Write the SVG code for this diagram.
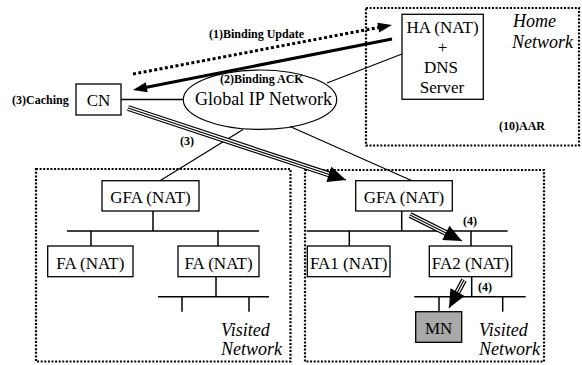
<svg xmlns="http://www.w3.org/2000/svg" width="582" height="365" viewBox="0 0 582 365">
<style>
.bg{fill:#ffffff}
.zone{fill:none;stroke:#000;stroke-width:2.2;stroke-dasharray:2 1.6}
.box{fill:#fff;stroke:#000;stroke-width:1.3}
.mn{fill:#a9a9a9;stroke:#000;stroke-width:1.3}
.wire{fill:none;stroke:#000;stroke-width:1.5}
.thin{fill:none;stroke:#000;stroke-width:1.2}
.node{font-family:"Liberation Serif","Times New Roman",serif;font-size:17px;fill:#000;text-anchor:middle}
.lbl{font-family:"Liberation Serif","Times New Roman",serif;font-size:12px;font-weight:bold;fill:#000}
.zl{font-family:"Liberation Serif","Times New Roman",serif;font-size:18px;font-style:italic;fill:#000}
.t1{fill:none;stroke:#000;stroke-width:6}
.t2{fill:none;stroke:#fff;stroke-width:3.6}
.t3{fill:none;stroke:#000;stroke-width:1.2}
</style>
<defs>
<marker id="tri" markerUnits="userSpaceOnUse" markerWidth="18" markerHeight="16" refX="18" refY="8" orient="auto" overflow="visible">
<path d="M0,0 L18,8 L0,16 z" fill="#000"/>
</marker>
<marker id="ah" markerUnits="userSpaceOnUse" markerWidth="14" markerHeight="10" refX="8" refY="5" orient="auto" overflow="visible">
<path d="M0,0 L14,5 L0,10 z" fill="#000"/>
</marker>
</defs>
<rect class="bg" x="0" y="0" width="582" height="365"/>

<g id="zones">
<rect class="zone" x="366" y="8" width="213" height="137.5"/>
<rect class="zone" x="36" y="169" width="254.5" height="192.5"/>
<rect class="zone" x="305" y="170" width="239" height="191.5"/>
<text class="zl" x="513" y="27">Home</text>
<text class="zl" x="512" y="48">Network</text>
<text class="zl" x="221" y="336">Visited</text>
<text class="zl" x="221" y="355">Network</text>
<text class="zl" x="479" y="336">Visited</text>
<text class="zl" x="479" y="355">Network</text>
</g>

<g id="connectors">
<line class="wire" x1="121" y1="99.5" x2="183.5" y2="99.5"/>
<line class="thin" x1="327" y1="83" x2="402" y2="54"/>
<line class="thin" x1="243" y1="129.5" x2="160" y2="180.7"/>
<line class="thin" x1="290" y1="126.5" x2="412" y2="180.7"/>
<!-- left visited tree -->
<line class="wire" x1="153" y1="211" x2="153" y2="231"/>
<line class="wire" x1="67" y1="231" x2="259" y2="231"/>
<line class="wire" x1="91" y1="231" x2="91" y2="246"/>
<line class="wire" x1="218" y1="231" x2="218" y2="246"/>
<line class="wire" x1="216" y1="276.7" x2="216" y2="296.7"/>
<line class="wire" x1="158" y1="296.7" x2="269" y2="296.7"/>
<line class="wire" x1="182" y1="296.7" x2="182" y2="311.7"/>
<line class="wire" x1="249" y1="296.7" x2="249" y2="311.7"/>
<!-- right visited tree -->
<line class="wire" x1="401.7" y1="211" x2="401.7" y2="231"/>
<line class="wire" x1="306.7" y1="231" x2="507.7" y2="231"/>
<line class="wire" x1="349.3" y1="231" x2="349.3" y2="246"/>
<line class="wire" x1="471" y1="231" x2="471" y2="246"/>
<line class="wire" x1="471.7" y1="276.7" x2="471.7" y2="296.7"/>
<line class="wire" x1="414.3" y1="296.7" x2="525.7" y2="296.7"/>
<line class="wire" x1="439" y1="296.7" x2="439" y2="311.7"/>
<line class="wire" x1="502.7" y1="296.7" x2="502.7" y2="311.7"/>
<!-- binding update (dotted) and ack (solid) -->
<line x1="133" y1="74" x2="386.1" y2="26.1" stroke="#000" stroke-width="3" stroke-dasharray="3 2.4" marker-end="url(#ah)"/>
<line x1="392" y1="39" x2="138.9" y2="88.8" stroke="#000" stroke-width="3" marker-end="url(#ah)"/>
<!-- triple-line data arrows -->
<line class="t1" x1="128" y1="108" x2="334.6" y2="176.2"/>
<line class="t2" x1="128" y1="108" x2="334.6" y2="176.2"/>
<line class="t3" x1="128" y1="108" x2="346" y2="180" marker-end="url(#tri)"/>
<line class="t1" x1="410" y1="215" x2="451.3" y2="235.6"/>
<line class="t2" x1="410" y1="215" x2="451.3" y2="235.6"/>
<line class="t3" x1="410" y1="215" x2="462" y2="241" marker-end="url(#tri)"/>
<line class="t1" x1="464" y1="280" x2="454.7" y2="297.4"/>
<line class="t2" x1="464" y1="280" x2="454.7" y2="297.4"/>
<line class="t3" x1="464" y1="280" x2="449" y2="308" marker-end="url(#tri)"/>
<text class="lbl" x="209" y="38">(1)Binding Update</text>
<text class="lbl" x="220" y="83">(2)Binding ACK</text>
<text class="lbl" x="12" y="104">(3)Caching</text>
<text class="lbl" x="180" y="145">(3)</text>
<text class="lbl" x="463" y="225">(4)</text>
<text class="lbl" x="478" y="291">(4)</text>
<text class="lbl" x="499" y="130">(10)AAR</text>
</g>

<g id="cn">
<rect class="box" x="76" y="84" width="45" height="31"/>
<text class="node" x="98.5" y="106">CN</text>
</g>

<g id="global-ip">
<ellipse cx="260" cy="99.7" rx="76.7" ry="29.7" fill="none" stroke="#000" stroke-width="1.2"/>
<text class="node" x="195" y="105" style="text-anchor:start;font-size:18px" textLength="137" lengthAdjust="spacing">Global IP Network</text>
</g>

<g id="ha">
<rect class="box" x="402" y="14.3" width="81.3" height="85"/>
<text class="node" x="442.5" y="33">HA (NAT)</text>
<text class="node" x="442.5" y="53">+</text>
<text class="node" x="441" y="73">DNS</text>
<text class="node" x="442" y="93">Server</text>
</g>

<g id="gfa-left">
<rect class="box" x="102" y="180.7" width="97" height="30.3"/>
<text class="node" x="150.5" y="203">GFA (NAT)</text>
</g>
<g id="fa-left-1">
<rect class="box" x="47.7" y="246" width="85.3" height="30.7"/>
<text class="node" x="90.3" y="269">FA (NAT)</text>
</g>
<g id="fa-left-2">
<rect class="box" x="178" y="246" width="81" height="30.7"/>
<text class="node" x="218.5" y="269">FA (NAT)</text>
</g>

<g id="gfa-right">
<rect class="box" x="355.7" y="180.7" width="96.6" height="30.3"/>
<text class="node" x="404" y="203">GFA (NAT)</text>
</g>
<g id="fa1">
<rect class="box" x="307.3" y="246" width="82.7" height="30.7"/>
<text class="node" x="348.7" y="269">FA1 (NAT)</text>
</g>
<g id="fa2">
<rect class="box" x="429.3" y="246" width="82.4" height="30.7"/>
<text class="node" x="470.5" y="269">FA2 (NAT)</text>
</g>
<g id="mn">
<rect class="mn" x="415.7" y="311.7" width="46" height="30.6"/>
<text class="node" x="438.7" y="334">MN</text>
</g>
</svg>
